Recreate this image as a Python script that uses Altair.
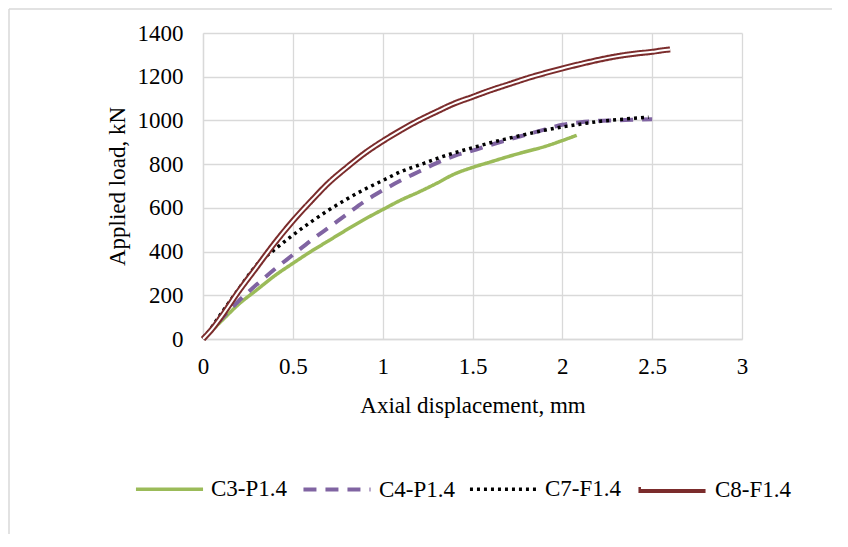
import altair as alt
import pandas as pd

SERIES = ["C3-P1.4", "C4-P1.4", "C7-F1.4", "C8-F1.4"]
SERIES_W = SERIES + [" "]

c3_x = [0, 0.05, 0.1, 0.2, 0.3, 0.4, 0.5, 0.6, 0.7, 0.8, 0.9, 1.0, 1.1, 1.2, 1.3, 1.4, 1.5, 1.6, 1.7, 1.8, 1.9, 2.0, 2.08]
c3_y = [0, 40, 80, 160, 225, 290, 346, 400, 450, 500, 548, 592, 635, 672, 712, 755, 785, 810, 835, 858, 880, 908, 932]

c4_x = [0, 0.05, 0.1, 0.2, 0.3, 0.4, 0.5, 0.6, 0.7, 0.8, 0.9, 1.0, 1.1, 1.2, 1.3, 1.4, 1.5, 1.6, 1.7, 1.8, 1.9, 2.0, 2.1, 2.2, 2.3, 2.4, 2.5]
c4_y = [0, 45, 90, 175, 250, 320, 385, 450, 510, 570, 630, 680, 725, 765, 805, 838, 862, 888, 912, 935, 958, 980, 992, 998, 1000, 1003, 1005]

c7_x = [0, 0.05, 0.1, 0.2, 0.3, 0.4, 0.5, 0.6, 0.7, 0.8, 0.9, 1.0, 1.1, 1.2, 1.3, 1.4, 1.5, 1.6, 1.7, 1.8, 1.9, 2.0, 2.1, 2.2, 2.3, 2.4, 2.48]
c7_y = [0, 55, 115, 230, 340, 410, 475, 535, 590, 640, 685, 725, 765, 795, 825, 852, 875, 898, 918, 937, 955, 970, 983, 995, 1003, 1010, 1015]

c8_x = [0, 0.05, 0.1, 0.2, 0.3, 0.4, 0.5, 0.6, 0.7, 0.8, 0.9, 1.0, 1.1, 1.2, 1.3, 1.4, 1.5, 1.6, 1.7, 1.8, 1.9, 2.0, 2.1, 2.2, 2.3, 2.4, 2.5, 2.55, 2.6]
c8_y = [0, 45, 100, 220, 330, 440, 540, 630, 715, 785, 850, 905, 955, 1000, 1040, 1078, 1108, 1138, 1165, 1192, 1216, 1238, 1258, 1277, 1293, 1305, 1314, 1320, 1325]

x_ticks = [0, 0.5, 1, 1.5, 2, 2.5, 3]
y_ticks = [0, 200, 400, 600, 800, 1000, 1200, 1400]

colors = ["#9BBB59", "#8064A2", "#000000", "#7B2C2C"]
dashes = [[1, 0], [13, 9], [3, 4], [1, 0]]
widths = [3.5, 4, 3.5, 6]

rows = []
for name, xs, ys in [(SERIES[0], c3_x, c3_y), (SERIES[1], c4_x, c4_y),
                     (SERIES[2], c7_x, c7_y), (SERIES[3], c8_x, c8_y)]:
    for xv, yv in zip(xs, ys):
        rows.append({"series": name, "x": xv, "y": yv})
df = pd.DataFrame(rows)

FONT = "Liberation Serif"

xenc = alt.X("x:Q", scale=alt.Scale(domain=[0, 3], nice=False),
             axis=alt.Axis(values=x_ticks, labelExpr="datum.value", title="Axial displacement, mm",
                           labelPadding=16, labelFlush=False, titleX=269.5, titleY=73,
                           titleBaseline="alphabetic", titleAnchor="middle", titleAlign="center"))
yenc = alt.Y("y:Q", scale=alt.Scale(domain=[0, 1400], nice=False),
             axis=alt.Axis(values=y_ticks, labelExpr="datum.value", title="Applied load, kN",
                           labelPadding=20, labelFlush=False, titleX=-86, titleY=153, titleAngle=270,
                           titleBaseline="middle", titleAlign="center"))

leg_common = dict(orient="none", legendX=-69, legendY=420, direction="horizontal", title=None,
                  labelFont=FONT, labelFontSize=23, labelColor="black", symbolType="stroke",
                  symbolSize=4500, labelOffset=6, columnPadding=1, padding=0, symbolStrokeWidth=4,
                  gridAlign="all")

leg1 = alt.Legend(**leg_common)

lines = alt.Chart(df).mark_line(interpolate="monotone").encode(
    x=xenc, y=yenc,
    color=alt.Color("series:N", scale=alt.Scale(domain=SERIES, range=colors), legend=leg1),
    strokeDash=alt.StrokeDash("series:N", scale=alt.Scale(type="ordinal", domain=SERIES, range=dashes), legend=leg1),
    strokeWidth=alt.StrokeWidth("series:N", scale=alt.Scale(type="ordinal", domain=SERIES, range=widths), legend=leg1),
)

# white core of the C8 double line; its legend overlays the C8 legend symbol
leg2 = alt.Legend(**{**leg_common, "labelColor": "transparent", "symbolStrokeWidth": 2.2,
                     "symbolStrokeColor": "white", "columnPadding": 12, "symbolOffset": 1.5})
inner = alt.Chart(df).transform_filter(alt.datum.series == SERIES[3]).mark_line(
    interpolate="monotone", strokeWidth=2, color="white"
).encode(
    x=xenc, y=yenc,
    opacity=alt.Opacity("series:N", scale=alt.Scale(type="ordinal", domain=SERIES_W,
                                                    range=[0.001, 0.001, 0.001, 1, 0.001]),
                        legend=leg2),
)

frame_df = pd.DataFrame({"k": [0]})
top_rule = alt.Chart(frame_df).mark_rule(color="#d9d9d9", strokeWidth=1.5).encode(
    x=alt.value(-194), x2=alt.value(640), y=alt.value(-24))
left_rule = alt.Chart(frame_df).mark_rule(color="#d9d9d9", strokeWidth=1.5).encode(
    x=alt.value(-194), y=alt.value(-24), y2=alt.value(520))

chart = alt.layer(top_rule, left_rule, lines, inner).properties(
    width=539, height=306,
    autosize=alt.AutoSizeParams(type="none"),
    padding={"left": 195, "top": 25, "right": 90, "bottom": 195},
).configure_view(stroke=None).configure_axis(
    labelFont=FONT, labelFontSize=23, labelColor="black",
    titleFont=FONT, titleFontSize=23, titleFontWeight="normal", titleColor="black",
    gridColor="#d9d9d9", gridWidth=1.3, domainColor="#d9d9d9", domainWidth=1.3,
    ticks=False, tickSize=0,
)

chart.save("out.html", embed_options={"renderer": "svg", "actions": False})
